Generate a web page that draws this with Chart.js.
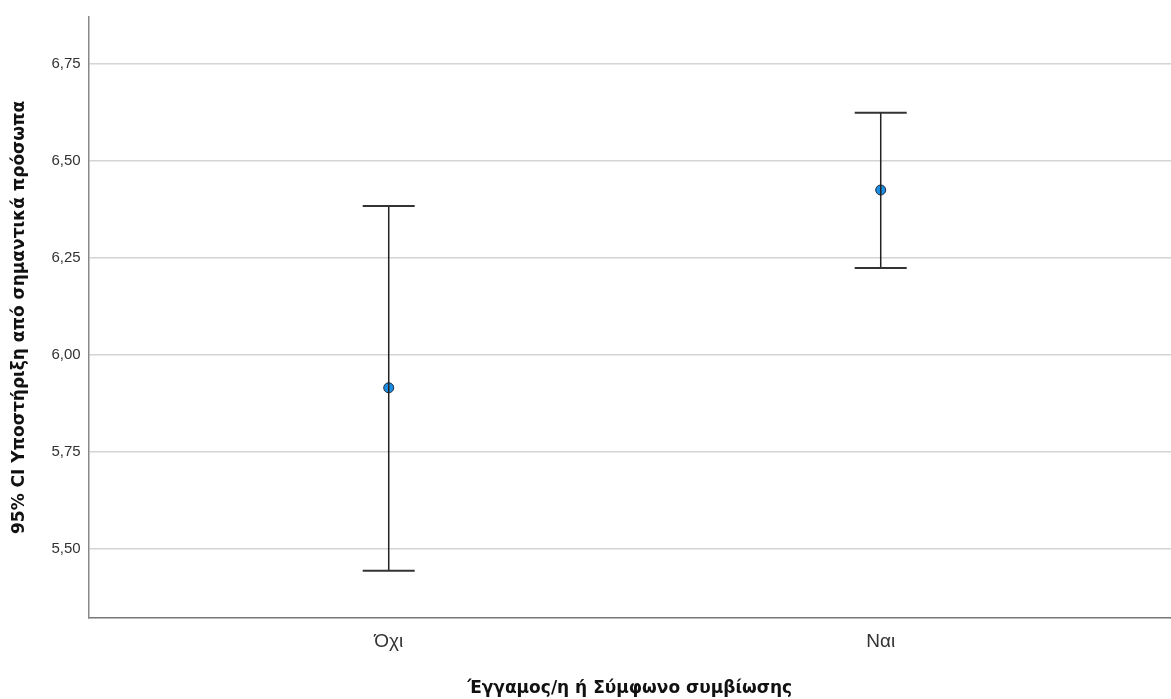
<!DOCTYPE html>
<html>
<head>
<meta charset="utf-8">
<script src="https://cdn.jsdelivr.net/npm/chart.js@4"></script>
<style>
  body { margin: 0; background: #fff; }
  #wrap { width: 1171px; height: 699px; }
</style>
</head>
<body>
<div id="wrap"><canvas id="c" width="1171" height="699"></canvas></div>
<script>
// categories on the x axis (placed at 1, 2 of a linear scale)
const categories = ['Όχι', 'Ναι'];
// group means and 95% CI bounds
const means = [5.915, 6.425];
const lowerCI = [5.443, 6.224];
const upperCI = [6.384, 6.624];
const yTicks = [5.50, 5.75, 6.00, 6.25, 6.50, 6.75];

const yTitle = '95% CI Υποστήριξη από σημαντικά πρόσωπα';
const xTitle = 'Έγγαμος/η ή Σύμφωνο συμβίωσης';

const whiskerColor = '#222222';
const pointColor = '#1b8ee3';

// one dataset per error bar: vertical line with 'line' points as caps
const whiskers = categories.map((cat, i) => ({
  type: 'scatter',
  data: [{x: i + 1, y: lowerCI[i]}, {x: i + 1, y: upperCI[i]}],
  showLine: true,
  borderColor: whiskerColor,
  borderWidth: 1.5,
  pointStyle: 'line',
  pointRadius: 26,
  pointBorderWidth: 2,
  pointBorderColor: '#333333',
  clip: false
}));

const meanSet = {
  type: 'scatter',
  data: means.map((m, i) => ({x: i + 1, y: m})),
  pointStyle: 'circle',
  pointRadius: 5,
  pointBackgroundColor: pointColor,
  pointBorderColor: '#1a2a3a',
  pointBorderWidth: 1,
  clip: false
};

new Chart(document.getElementById('c'), {
  type: 'scatter',
  data: { datasets: [...whiskers, meanSet] },
  options: {
    responsive: false,
    animation: false,
    layout: { autoPadding: false, padding: { top: 10, right: 0, left: 9, bottom: 0 } },
    plugins: { legend: { display: false }, tooltip: { enabled: false } },
    scales: {
      x: {
        type: 'linear',
        min: 0.39,
        max: 2.59,
        afterBuildTicks: axis => { axis.ticks = categories.map((c, i) => ({value: i + 1})); },
        ticks: {
          callback: v => categories[v - 1],
          color: '#333',
          font: { family: 'Arial', size: 19 },
          padding: 13,
          maxRotation: 0
        },
        grid: { display: false, drawTicks: false },
        border: { color: '#777', width: 1.5 },
        title: {
          display: true,
          text: xTitle,
          color: '#111',
          font: { family: 'DejaVu Sans', size: 17, weight: 'bold' },
          padding: { top: 12, bottom: 0 }
        }
      },
      y: {
        min: 5.322,
        max: 6.871,
        afterBuildTicks: axis => { axis.ticks = yTicks.map(v => ({value: v})); },
        ticks: {
          callback: v => v.toFixed(2).replace('.', ','),
          color: '#333',
          font: { family: 'Arial', size: 15 },
          padding: 8
        },
        grid: { color: '#d4d4d4', lineWidth: 1.5, drawTicks: false },
        border: { color: '#888', width: 1.5 },
        title: {
          display: true,
          text: yTitle,
          color: '#111',
          font: { family: 'DejaVu Sans', size: 17, weight: 'bold' },
          padding: { top: 0, bottom: 14 }
        }
      }
    }
  }
});
</script>
</body>
</html>
